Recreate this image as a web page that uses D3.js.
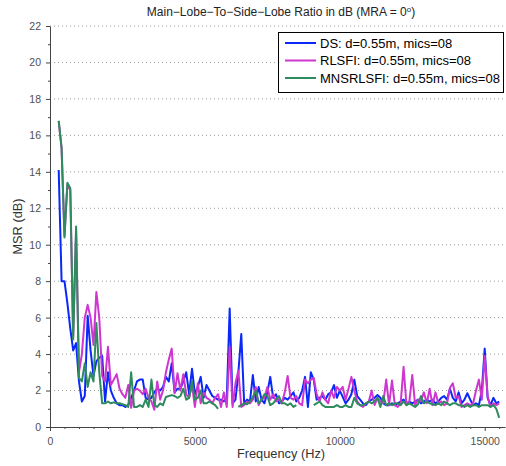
<!DOCTYPE html>
<html>
<head>
<meta charset="utf-8">
<script src="https://cdn.jsdelivr.net/npm/d3@7"></script>
<style>
  html, body { margin: 0; padding: 0; background: #fff; }
  svg { display: block; font-family: "Liberation Sans", Arial, Helvetica, sans-serif; }
</style>
</head>
<body>
<svg id="chart" width="506" height="466"></svg>
<script>
// Frequency grid of the estimates (Hz)
const freqStart = 300;
const freqStep = 100;

// MSR in dB for each beamformer
const dsValues = [
  14.1, 8.0, 8.0, 6.8, 5.4, 4.2, 4.6, 2.5, 1.4, 1.7,
  6.1, 4.2, 2.8, 3.6, 3.8, 3.9, 1.4, 3.0, 2.0, 1.6,
  1.3, 1.2, 1.2, 1.1, 1.2, 1.6, 2.0, 2.5, 2.6, 2.6,
  1.6, 1.5, 1.6, 1.9, 2.1, 2.0, 2.2, 2.75, 2.5, 3.5,
  1.9, 2.1, 2.1, 2.5, 3.0, 1.8, 3.2, 1.8, 2.2, 2.75,
  1.6, 2.3, 2.0, 1.7, 1.6, 1.5, 1.5, 1.4, 1.6, 6.5,
  1.3, 1.5, 3.0, 5.1, 1.3, 1.5, 1.4, 2.85, 1.4, 2.2,
  1.5, 1.3, 1.9, 2.75, 1.6, 1.8, 1.3, 1.4, 1.6, 1.5,
  1.7, 1.9, 1.4, 1.6, 2.0, 2.75, 1.1, 3.0, 2.6, 1.5,
  1.6, 1.7, 1.5, 1.8, 1.9, 2.3, 1.6, 2.0, 1.65, 1.3,
  1.5, 1.8, 2.6, 1.7, 1.5, 1.3, 1.2, 1.4, 1.5, 1.6,
  1.75, 1.6, 1.3, 1.2, 1.2, 1.3, 1.2, 1.3, 1.4, 1.5,
  1.3, 1.4, 1.3, 1.4, 1.5, 1.3, 1.4, 1.5, 1.4, 1.5,
  1.3, 1.4, 1.6, 1.7, 1.5, 2.1, 1.6, 1.4, 1.9, 1.3,
  1.5, 1.85, 1.5, 1.2, 1.3, 1.2, 2.0, 4.3, 1.6, 1.2,
  1.6, 1.3, 1.4
];

const rlsfiValues = [
  16.8, 15.3, 10.5, 13.3, 13.0, 5.0, 10.8, 3.0, 4.0, 6.0,
  6.7, 6.0, 4.5, 7.4, 6.0, 2.8, 2.5, 4.4, 2.3, 2.6,
  2.9, 2.1, 1.8, 1.6, 2.3, 1.05, 2.0, 2.1, 2.0, 1.8,
  2.1, 1.6, 1.4, 0.95, 2.5, 1.5, 2.0, 3.0, 3.7, 4.3,
  1.85, 2.95, 2.0, 2.9, 1.8, 1.6, 2.3, 1.1, 2.4, 1.3,
  1.9, 1.6, 1.5, 1.3, 1.6, 1.8, 1.1, 1.9, 1.1, 4.4,
  1.1, 2.4, 3.1, 1.1, 1.2, 1.4, 1.3, 1.5, 2.2, 1.2,
  1.5, 1.6, 2.2, 1.5, 1.8, 1.4, 1.5, 1.3, 1.9, 2.8,
  1.6, 1.5, 1.7, 1.3, 1.2, 2.6, 2.4, 2.6, 2.7, 1.8,
  1.4, 1.9, 1.5, 1.3, 2.0, 1.6, 2.2, 2.0, 2.2, 1.5,
  2.1, 2.75, 2.0, 1.4, 1.2, 1.1, 1.3, 1.4, 2.0, 1.2,
  1.6, 1.4, 1.3, 2.6, 1.2, 2.55, 1.2, 1.1, 1.3, 3.3,
  1.2, 1.4, 2.85, 1.2, 1.5, 1.4, 1.9, 1.3, 2.1, 1.2,
  1.9, 1.3, 1.4, 1.2, 1.3, 2.15, 2.4, 1.6, 1.7, 1.1,
  1.2, 1.3, 1.2, 1.3, 2.0, 2.6, 1.5, 3.9, 1.7, 1.1,
  1.3, 1.2, 1.3
];

// null marks frequencies with no valid estimate
const mnsrlsfiValues = [
  16.8, 15.3, 10.4, 13.4, 13.1, 4.8, 11.0, 2.7, 2.5, 3.5,
  2.2, 3.0, 2.5, 5.7, 3.0, 1.3, 1.3, 1.4, 1.3, 1.35,
  1.3, 1.3, 1.25, 1.2, 1.1, 3.0, 1.1, 1.1, 1.2, 1.1,
  1.5, 1.1, 2.6, 1.2, 1.1, 1.3, 1.2, 1.65, 1.7, 1.75,
  1.7, 1.6, 1.7, 2.1, 1.5, 1.6, 2.5, 1.5, 1.6, 2.0,
  1.3, 1.3, 1.4, 1.3, 1.2, 1.0, null, null, null, null,
  null, null, 1.1, 1.2, 1.3, 1.25, 1.4, 1.65, 2.0, 1.3,
  1.5, 1.8, 1.7, 1.2, 1.3, 1.5, 1.7, 1.3, 1.3, 1.2,
  1.3, 1.1, 1.2, null, null, null, null, null, 1.2, 1.3,
  1.4, 1.2, 1.1, 1.1, 1.1, 1.1, 1.2, 1.1, 1.1, 1.2,
  1.1, 1.1, 1.6, 1.3, 1.2, 1.2, 1.3, 1.4, 1.3, 1.4,
  1.6, 1.1, 1.7, 1.2, 1.3, 1.2, 1.3, 1.3, 1.2, 1.4,
  1.2, 1.3, 1.2, 1.1, 1.25, 1.7, 1.3, 1.4, 1.3, 1.25,
  1.2, 1.3, 1.2, 1.4, 1.3, 1.2, 1.3, 1.3, 1.2, 1.2,
  1.1, 1.2, 1.1, 1.2, 1.2, 1.1, 1.2, 1.2, 1.2, 1.1,
  1.2, 1.0, 0.5
];

const seriesNames = [
  "DS: d=0.55m, mics=08",
  "RLSFI: d=0.55m, mics=08",
  "MNSRLSFI: d=0.55m, mics=08"
];
const seriesColors = ["#0a28fa", "#cf36cf", "#2e8b5e"];

const xTickValues = [0, 5000, 10000, 15000];
const yTickValues = [0, 2, 4, 6, 8, 10, 12, 14, 16, 18, 20, 22];

const series = [dsValues, rlsfiValues, mnsrlsfiValues].map((vals, k) => ({
  name: seriesNames[k],
  color: seriesColors[k],
  points: vals.map((v, i) => ({ f: freqStart + i * freqStep, v }))
}));

const svg = d3.select("#chart");
const plotLeft = 50, plotRight = 505, plotTop = 26, plotBottom = 427;

const x = d3.scaleLinear().domain([0, 15700]).range([plotLeft, plotRight]);
const y = d3.scaleLinear().domain([0, 22]).range([plotBottom, plotTop]);

// horizontal dotted grid
svg.append("g")
  .selectAll("line")
  .data(yTickValues.filter(d => d > 0))
  .join("line")
  .attr("x1", plotLeft).attr("x2", 506)
  .attr("y1", d => y(d)).attr("y2", d => y(d))
  .attr("stroke", "#9a9a9a")
  .attr("stroke-width", 1)
  .attr("stroke-dasharray", "1,3");

// axes
const axisColor = "#444";
const xAxis = svg.append("g").attr("transform", `translate(0,${plotBottom})`)
  .call(d3.axisBottom(x).tickValues(xTickValues).tickFormat(d3.format("d")).tickSize(4).tickSizeOuter(0));
const xMinor = svg.append("g").attr("transform", `translate(0,${plotBottom})`)
  .call(d3.axisBottom(x).tickValues(d3.range(500, 15600, 500).filter(d => d % 5000 !== 0)).tickFormat("").tickSize(2).tickSizeOuter(0));
xMinor.select(".domain").remove();

const yAxis = svg.append("g").attr("transform", `translate(${plotLeft},0)`)
  .call(d3.axisLeft(y).tickValues(yTickValues).tickSize(4).tickSizeOuter(0));
const yMinor = svg.append("g").attr("transform", `translate(${plotLeft},0)`)
  .call(d3.axisLeft(y).tickValues(d3.range(1, 22, 2)).tickFormat("").tickSize(2).tickSizeOuter(0));
yMinor.select(".domain").remove();

[xAxis, xMinor, yAxis, yMinor].forEach(g => {
  g.selectAll("path, line").attr("stroke", axisColor);
  g.selectAll("text").attr("fill", "#505050").style("font-size", "10.5px")
    .style("font-family", '"Liberation Sans", Arial, sans-serif');
});
xAxis.selectAll("text").attr("dy", "1.05em");
yAxis.selectAll("text").attr("dx", "-2px");

// series lines
const line = d3.line()
  .defined(d => d.v !== null)
  .x(d => x(d.f))
  .y(d => y(d.v));

svg.append("g")
  .selectAll("path")
  .data(series)
  .join("path")
  .attr("fill", "none")
  .attr("stroke", d => d.color)
  .attr("stroke-width", 2)
  .attr("stroke-linejoin", "round")
  .attr("d", d => line(d.points));

// title
const title = svg.append("text")
  .attr("x", 281).attr("y", 16)
  .attr("text-anchor", "middle")
  .attr("fill", "#222")
  .style("font-size", "12px");
title.append("tspan").text("Main\u2212Lobe\u2212To\u2212Side\u2212Lobe Ratio in dB (MRA = 0");
title.append("tspan").attr("dy", "-4").style("font-size", "8px").text("o");
title.append("tspan").attr("dy", "4").text(")");

// axis labels
svg.append("text")
  .attr("x", 281).attr("y", 458)
  .attr("text-anchor", "middle")
  .attr("fill", "#333")
  .style("font-size", "12.8px")
  .text("Frequency (Hz)");

svg.append("text")
  .attr("transform", `translate(22,${(plotTop + plotBottom) / 2}) rotate(-90)`)
  .attr("text-anchor", "middle")
  .attr("fill", "#333")
  .style("font-size", "12.8px")
  .text("MSR (dB)");

// legend
const legend = svg.append("g");
legend.append("rect")
  .attr("x", 278.5).attr("y", 32.5)
  .attr("width", 225).attr("height", 60)
  .attr("fill", "#fff")
  .attr("stroke", "#000")
  .attr("stroke-width", 1);

const rows = legend.selectAll("g.row")
  .data(series)
  .join("g")
  .attr("class", "row")
  .attr("transform", (d, i) => `translate(0,${43 + i * 17.5})`);
rows.append("line")
  .attr("x1", 285).attr("x2", 316)
  .attr("stroke", d => d.color)
  .attr("stroke-width", 2);
rows.append("text")
  .attr("x", 320).attr("y", 0)
  .attr("dy", "0.35em")
  .attr("fill", "#000")
  .style("font-size", "13px")
  .text(d => d.name);
</script>
</body>
</html>
